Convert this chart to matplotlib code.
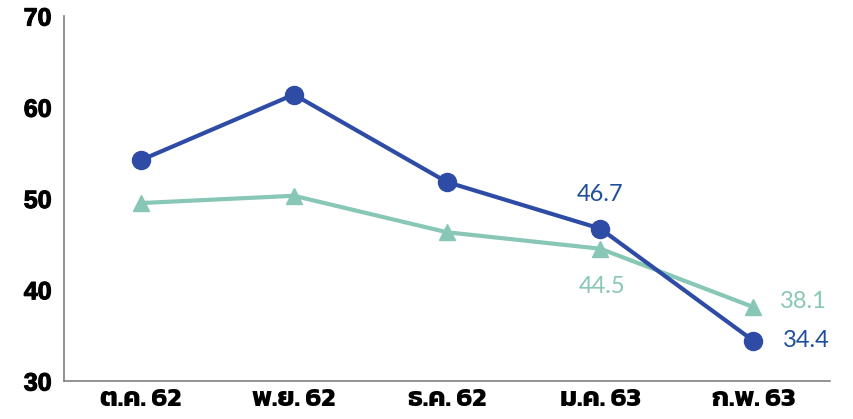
import matplotlib
matplotlib.use("Agg")
import matplotlib.pyplot as plt
from matplotlib import font_manager
from matplotlib.ft2font import FT2Font
import matplotlib.patheffects as pe

categories = ["ต.ค. 62", "พ.ย. 62", "ธ.ค. 62", "ม.ค. 63", "ก.พ. 63"]
series_blue = [54.2, 61.4, 51.8, 46.7, 34.4]
series_teal = [49.5, 50.3, 46.3, 44.5, 38.1]
yticks = [30, 40, 50, 60, 70]

BLUE = "#2E4BA6"
BLUE_TXT = "#1F4F9C"
TEAL = "#88C6B6"

# find a font with Thai glyphs (prefer bold)
thai_fonts = []
for f in font_manager.fontManager.ttflist:
    try:
        cm = FT2Font(f.fname).get_charmap()
        if 0x0E15 in cm:
            thai_fonts.append(f)
    except Exception:
        pass
def _w(f):
    try:
        return -int(f.weight)
    except Exception:
        return 0 if str(f.weight) in ("bold", "heavy", "black") else 1
thai_fonts.sort(key=_w)
thai_family = thai_fonts[0].name if thai_fonts else "DejaVu Sans"

fig = plt.figure(figsize=(8.54, 4.19), dpi=100)
ax = fig.add_axes([0.075, 0.0907, 0.897, 0.871])

x = list(range(len(categories)))
ax.plot(x, series_teal, color=TEAL, lw=3, marker="^", ms=11, zorder=2)
ax.plot(x, series_blue, color=BLUE, lw=3, marker="o", ms=13, zorder=3)

ax.set_xlim(-0.5, 4.5)
ax.set_ylim(30, 70)
ax.set_yticks(yticks)
ax.set_xticks(x)
xt = ax.set_xticklabels(categories, fontsize=19.5, fontweight="bold",
                        family=[thai_family, "DejaVu Sans"])
yt = ax.set_yticklabels([str(v) for v in yticks], fontsize=18, fontweight="bold",
                        family="Liberation Sans")
for t in yt:
    t.set_path_effects([pe.withStroke(linewidth=0.8, foreground="black")])
ax.tick_params(axis="both", length=0)
ax.tick_params(axis="y", pad=9)
ax.tick_params(axis="x", pad=5)
for s in ["top", "right"]:
    ax.spines[s].set_visible(False)
for s in ["left", "bottom"]:
    ax.spines[s].set_color("#808080")
    ax.spines[s].set_linewidth(1.2)

lab = dict(fontsize=17, family="Lato")
ax.annotate(f"{series_blue[3]}", (3, series_blue[3]), xytext=(0, 17), textcoords="offset points",
            ha="center", va="bottom", color=BLUE_TXT, **lab)
ax.annotate(f"{series_teal[3]}", (3, series_teal[3]), xytext=(1, -20), textcoords="offset points",
            ha="center", va="top", color=TEAL, **lab)
ax.annotate(f"{series_teal[4]}", (4, series_teal[4]), xytext=(19, 4), textcoords="offset points",
            ha="left", va="center", color=TEAL, **lab)
ax.annotate(f"{series_blue[4]}", (4, series_blue[4]), xytext=(21, 0), textcoords="offset points",
            ha="left", va="center", color=BLUE_TXT, **lab)

fig.savefig("out.png", dpi=100)
